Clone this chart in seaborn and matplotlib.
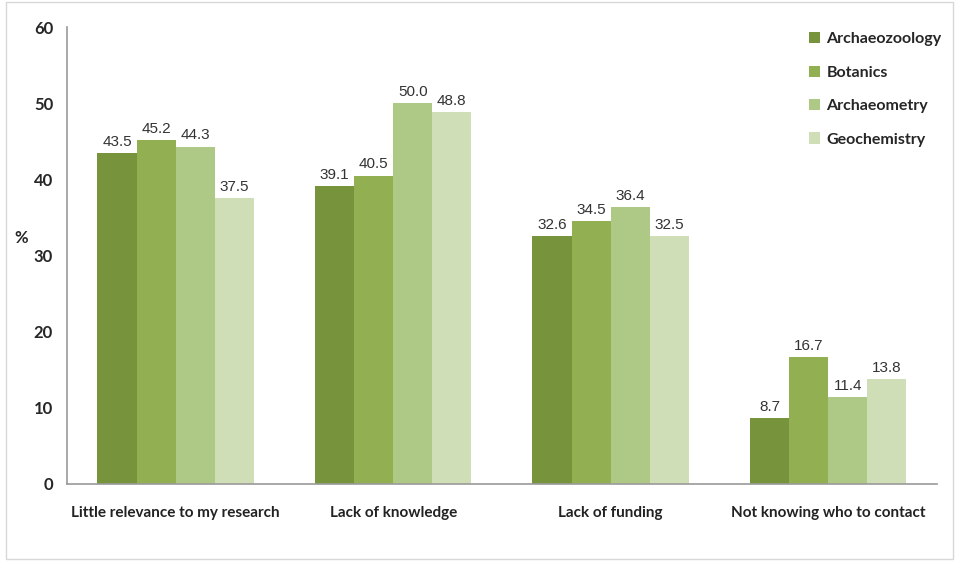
import matplotlib
matplotlib.use("Agg")
import matplotlib.pyplot as plt
import seaborn as sns
import pandas as pd
from matplotlib.patches import Rectangle

categories = ["Little relevance to my research", "Lack of knowledge",
              "Lack of funding", "Not knowing who to contact"]
disciplines = ["Archaeozoology", "Botanics", "Archaeometry", "Geochemistry"]
archaeozoology = [43.5, 39.1, 32.6, 8.7]
botanics = [45.2, 40.5, 34.5, 16.7]
archaeometry = [44.3, 50.0, 36.4, 11.4]
geochemistry = [37.5, 48.8, 32.5, 13.8]
yticks = [0, 10, 20, 30, 40, 50, 60]

colors = ["#77933C", "#92B052", "#AEC986", "#D0DEB8"]

series = [archaeozoology, botanics, archaeometry, geochemistry]
df = pd.DataFrame({
    "reason": [c for s in series for c in categories],
    "discipline": [d for d, s in zip(disciplines, series) for _ in s],
    "value": [v for s in series for v in s],
})

sns.set_theme(style="white")
plt.rcParams["font.family"] = ["Lato", "DejaVu Sans"]

fig = plt.figure(figsize=(9.57, 5.64), dpi=100)
ax = fig.add_axes([0.070, 0.142, 0.909, 0.810])

sns.barplot(data=df, x="reason", y="value", hue="discipline",
            order=categories, hue_order=disciplines, palette=colors,
            width=0.72, saturation=1, linewidth=0, ax=ax, legend=True)

for cont in ax.containers:
    ax.bar_label(cont, labels=[f"{v:.1f}" for v in cont.datavalues],
                 padding=3, fontsize=11, color="#333333",
                 family=["Liberation Sans", "DejaVu Sans"])

ax.set_ylim(0, 60)
ax.set_xlim(-0.5, len(categories) - 0.5)
ax.set_yticks(yticks)
ax.set_yticklabels([str(t) for t in yticks], fontsize=12, fontweight="bold")
ax.set_xticks([i - 0.5 for i in range(len(categories) + 1)], minor=False)
ax.set_xticklabels([])
ax.set_xticks(range(len(categories)), minor=True)
ax.set_xticklabels(categories, minor=True, fontsize=11, fontweight="bold",
                   color="#222222")
ax.tick_params(axis="x", which="minor", length=0, pad=16)
ax.tick_params(axis="x", which="major", length=5, color="#9a9a9a", direction="out")
ax.tick_params(axis="y", length=5, color="#9a9a9a", direction="out", pad=5)
ax.set_xlabel("")
ax.set_ylabel("%", rotation=0, fontsize=12, fontweight="bold")
ax.yaxis.set_label_coords(-0.053, 0.52)

for side in ["top", "right"]:
    ax.spines[side].set_visible(False)
for side in ["left", "bottom"]:
    ax.spines[side].set_color("#9a9a9a")
    ax.spines[side].set_linewidth(1.2)

leg = ax.legend(loc="upper right", bbox_to_anchor=(1.022, 1.02), frameon=False,
                prop={"weight": "bold", "size": 11.5},
                handlelength=0.7, handleheight=0.7, handletextpad=0.4,
                labelspacing=1.2)

fig.patches.append(Rectangle((0.006, 0.008), 0.99, 0.988, transform=fig.transFigure,
                             fill=False, edgecolor="#d8d8d8", linewidth=1))

fig.savefig("out.png", dpi=100)
